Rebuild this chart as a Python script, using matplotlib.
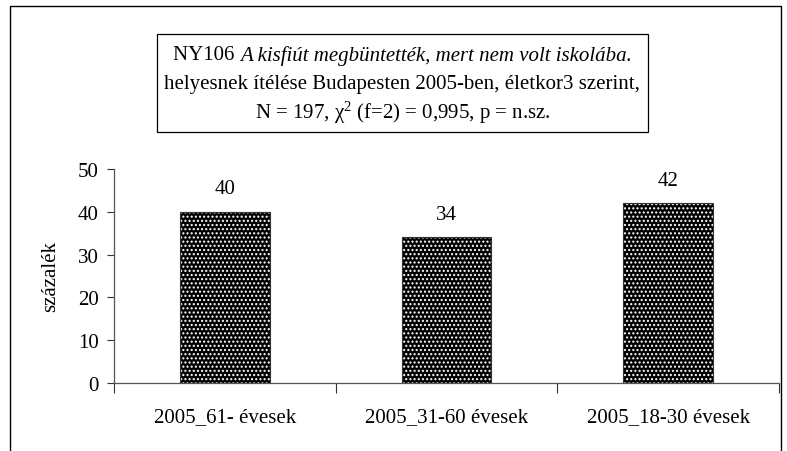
import matplotlib
matplotlib.use("Agg")
import matplotlib.pyplot as plt
import numpy as np
from matplotlib.patches import Rectangle

plt.rcParams['font.family'] = ['Liberation Serif', 'DejaVu Serif']
plt.rcParams['mathtext.fontset'] = 'custom'
plt.rcParams['mathtext.rm'] = 'Liberation Serif'
plt.rcParams['mathtext.it'] = 'Liberation Serif:italic'

categories = ['2005_61- évesek', '2005_31-60 évesek', '2005_18-30 évesek']
values = [40, 34, 42]
yticks = [0, 10, 20, 30, 40, 50]

title_plain = 'NY106 '
title_italic = 'A kisfiút megbüntették, mert nem volt iskolába.'
title_line2 = 'helyesnek ítélése Budapesten 2005-ben, életkor3 szerint,'
title_line3 = r'N = 197, χ$^2$ (f=2) = 0,995, p = n.sz.'

FS = 15
W, H = 787, 452
fig = plt.figure(figsize=(W / 100, H / 100), dpi=100)

def fx(px):
    return px / W

def fy(py):
    return 1 - py / H

# outer frame
fig.patches.append(Rectangle((fx(10), fy(470)), fx(771), 1 - fy(470) - (1 - fy(7)),
                             transform=fig.transFigure, fill=False,
                             edgecolor='black', linewidth=1.0))

ax = fig.add_axes([fx(114), fy(384), fx(779) - fx(114), fy(170) - fy(384)])
x = np.arange(len(categories))
bw = 0.406
# dotted fill: black face with white dot hatch, then black outline
ax.bar(x, values, width=bw, color='black', edgecolor='white', hatch='....',
       linewidth=0, zorder=2)
ax.bar(x, values, width=bw, fill=False, edgecolor='#333333', linewidth=0.8,
       zorder=3)

for xi, v in zip(x, values):
    ax.text(xi, v + 5.4, str(v), ha='center', va='center', fontsize=FS)

ax.set_xlim(-0.5, len(categories) - 0.5)
ax.set_ylim(0, 50)
ax.set_yticks(yticks)
ax.set_xticks(x)
ax.set_xticklabels(categories, fontsize=FS)
ax.set_xticks(np.arange(-0.5, len(categories)), minor=True)
ax.tick_params(axis='x', which='major', length=0, pad=17)
ax.tick_params(axis='x', which='minor', length=7, width=0.8, color='#333333')
ax.tick_params(axis='y', length=5, width=0.8, color='#333333', labelsize=FS, pad=6)
for s in ['top', 'right']:
    ax.spines[s].set_visible(False)
for s in ['left', 'bottom']:
    ax.spines[s].set_color('#555555')
    ax.spines[s].set_linewidth(0.9)
ax.set_ylabel('százalék', fontsize=FS)
ax.yaxis.set_label_coords((60 - 114) / 665, 0.5)

# title box
fig.patches.append(Rectangle((fx(157), fy(133)), fx(648) - fx(157), fy(35) - fy(133),
                             transform=fig.transFigure, fill=False,
                             edgecolor='black', linewidth=0.9))
cx = fx(402.5)
t1 = fig.text(0, fy(56), title_plain, fontsize=FS, ha='left', va='center')
t2 = fig.text(0, fy(56), title_italic, fontsize=FS, style='italic',
              ha='left', va='center')
fig.canvas.draw()
r = fig.canvas.get_renderer()
w1 = t1.get_window_extent(r).width / W
w2 = t2.get_window_extent(r).width / W
left = cx - (w1 + w2) / 2
t1.set_x(left)
t2.set_x(left + w1)
fig.text(cx, fy(85), title_line2, fontsize=FS, ha='center', va='center')
fig.text(cx, fy(113), title_line3, fontsize=FS, ha='center', va='center')

fig.savefig('out.png', dpi=100)
